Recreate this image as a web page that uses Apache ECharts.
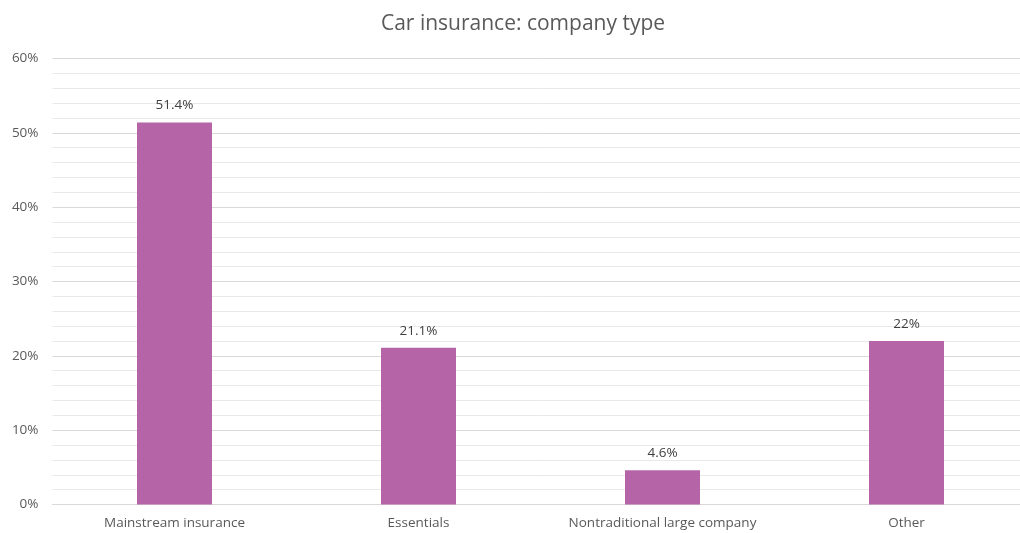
<!DOCTYPE html>
<html>
<head>
<meta charset="utf-8">
<script src="https://cdn.jsdelivr.net/npm/echarts@6/dist/echarts.min.js"></script>
<style>
  html, body { margin: 0; padding: 0; background: #fff; overflow: hidden; }
  #chart { width: 1029px; height: 533px; }
</style>
</head>
<body>
<div id="chart"></div>
<script>
// Share of respondents by car insurance company type
const categories = ['Mainstream insurance', 'Essentials', 'Nontraditional large company', 'Other'];
const shares = [51.4, 21.1, 4.6, 22];
const shareLabels = ['51.4%', '21.1%', '4.6%', '22%'];

const FONT = 'Open Sans';

const chart = echarts.init(document.getElementById('chart'), null, { renderer: 'canvas' });
chart.setOption({
  animation: false,
  backgroundColor: '#ffffff',
  title: {
    text: 'Car insurance: company type',
    left: 518,
    top: 9,
    textAlign: 'center',
    textStyle: { fontFamily: FONT, fontSize: 21, fontWeight: 'normal', color: '#595959' }
  },
  grid: { left: 52.5, right: 0.5, top: 58.5, bottom: 28.5, containLabel: false },
  xAxis: {
    type: 'category',
    data: categories,
    axisLine: { lineStyle: { color: '#d9d9d9' } },
    axisTick: { show: false },
    axisLabel: { interval: 0, fontFamily: FONT, fontSize: 13.5, color: '#595959', margin: 12 }
  },
  yAxis: {
    type: 'value',
    min: 0,
    max: 60,
    interval: 10,
    axisLine: { show: false },
    axisTick: { show: false },
    axisLabel: {
      fontFamily: FONT, fontSize: 13.5, color: '#595959', margin: 14,
      formatter: v => v + '%'
    },
    splitLine: { lineStyle: { color: '#d9d9d9' } },
    minorTick: { show: false, splitNumber: 5 },
    minorSplitLine: { show: true, lineStyle: { color: '#e9e9e9' } }
  },
  series: [{
    type: 'bar',
    data: shares,
    barWidth: 75,
    itemStyle: { color: '#b565a7' },
    label: {
      show: true,
      position: 'top',
      distance: 10,
      fontFamily: FONT,
      fontSize: 13.5,
      color: '#404040',
      formatter: p => shareLabels[p.dataIndex]
    }
  }]
});
</script>
</body>
</html>
